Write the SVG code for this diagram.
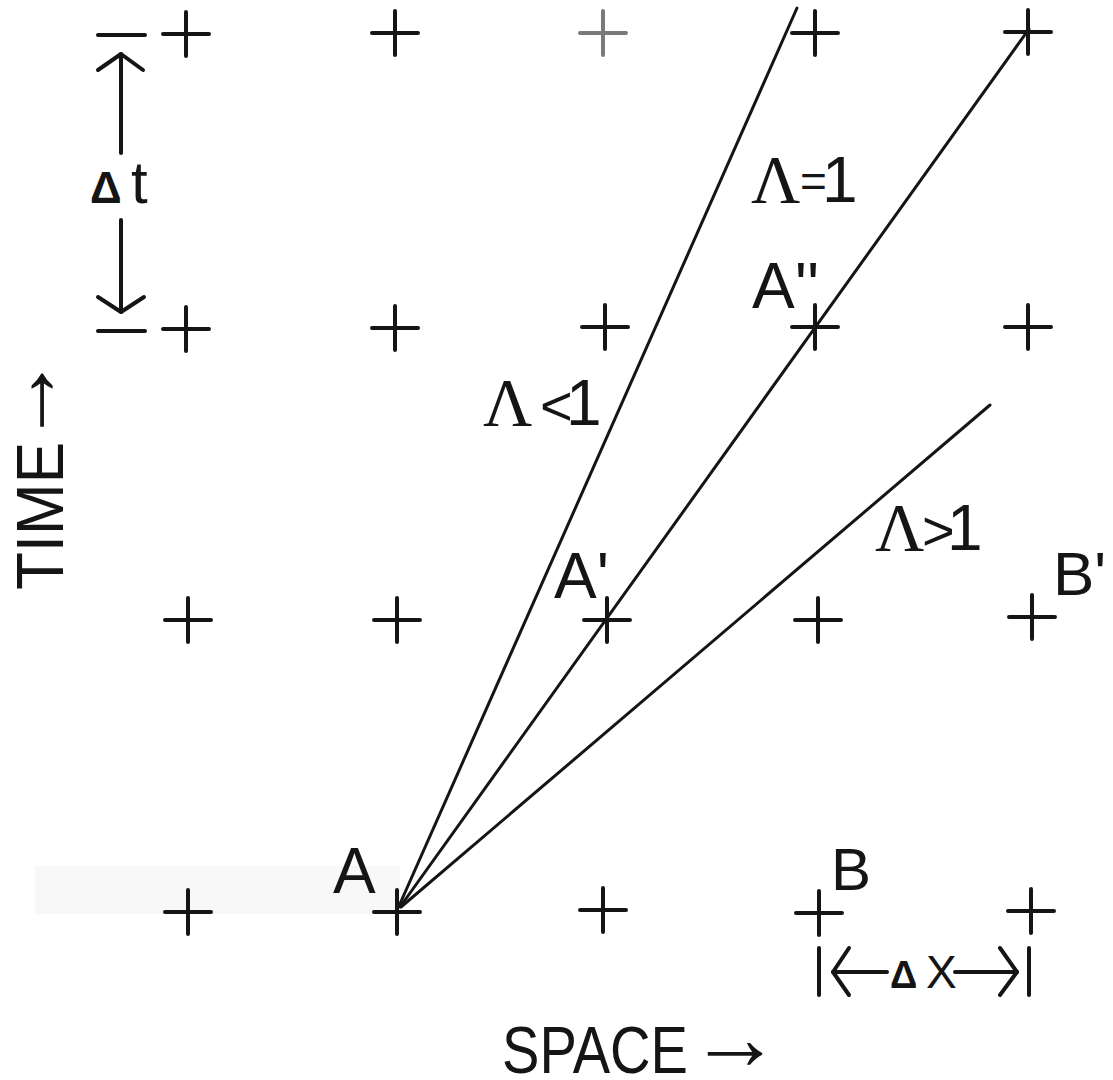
<svg xmlns="http://www.w3.org/2000/svg" xmlns:xlink="http://www.w3.org/1999/xlink" width="1113" height="1080" viewBox="0 0 1113 1080">
<style>
  .pl { stroke: #151515; stroke-width: 4; stroke-linecap: round; fill: none; }
  .pl.grey { stroke: #7a7a7a; }
  .ln { stroke: #151515; stroke-width: 3; stroke-linecap: round; fill: none; }
  .dim { stroke: #151515; stroke-width: 4; stroke-linecap: round; stroke-linejoin: round; fill: none; }
  .lbl { font-family: "Liberation Sans", Arial, sans-serif; fill: #151515; }
  .lam { font-family: "Liberation Serif", "Times New Roman", serif; }
  .tri { font-weight: bold; }
</style>
<defs>
  <path id="plus" d="M-23,0H23M0,-22V22"/>
</defs>
<rect width="1113" height="1080" fill="#ffffff"/>
<rect x="35" y="866" width="365" height="48" fill="#f8f8f8"/>

<g id="connectors">
  <line class="ln" x1="399" y1="906" x2="797" y2="8"/>
  <line class="ln" x1="400" y1="907" x2="1029" y2="29"/>
  <line class="ln" x1="401" y1="907" x2="990" y2="405"/>
</g>

<g id="grid">
  <g id="p00"><use xlink:href="#plus" class="pl" x="186" y="34"/></g>
  <g id="p01"><use xlink:href="#plus" class="pl" x="395" y="33"/></g>
  <g id="p02"><use xlink:href="#plus" class="pl grey" x="603" y="33"/></g>
  <g id="p03"><use xlink:href="#plus" class="pl" x="815" y="33"/></g>
  <g id="p04"><use xlink:href="#plus" class="pl" x="1028" y="32"/></g>

  <g id="p10"><use xlink:href="#plus" class="pl" x="186" y="329"/></g>
  <g id="p11"><use xlink:href="#plus" class="pl" x="395" y="328"/></g>
  <g id="p12"><use xlink:href="#plus" class="pl" x="605" y="327"/></g>
  <g id="p13"><use xlink:href="#plus" class="pl" x="815" y="327"/>
    <text class="lbl" x="752" y="308" font-size="64">A''</text></g>
  <g id="p14"><use xlink:href="#plus" class="pl" x="1028" y="327"/></g>

  <g id="p20"><use xlink:href="#plus" class="pl" x="188" y="620"/></g>
  <g id="p21"><use xlink:href="#plus" class="pl" x="397" y="620"/></g>
  <g id="p22"><use xlink:href="#plus" class="pl" x="607" y="620"/>
    <text class="lbl" x="554" y="598" font-size="64">A'</text></g>
  <g id="p23"><use xlink:href="#plus" class="pl" x="818" y="620"/></g>
  <g id="p24"><use xlink:href="#plus" class="pl" x="1032" y="617"/>
    <text class="lbl" x="1053" y="595" font-size="62">B'</text></g>

  <g id="p30"><use xlink:href="#plus" class="pl" x="188" y="912"/></g>
  <g id="p31"><use xlink:href="#plus" class="pl" x="397" y="912"/>
    <text class="lbl" x="333" y="893" font-size="64">A</text></g>
  <g id="p32"><use xlink:href="#plus" class="pl" x="603" y="910"/></g>
  <g id="p33"><use xlink:href="#plus" class="pl" x="819" y="913"/>
    <text class="lbl" x="831" y="890" font-size="60">B</text></g>
  <g id="p34"><use xlink:href="#plus" class="pl" x="1031" y="911"/></g>
</g>

<g id="line-labels">
  <text id="lab-eq" class="lbl" y="202" font-size="64"><tspan class="lam" x="751" font-size="68">Λ</tspan><tspan x="800" font-size="46" dy="-5">=</tspan><tspan x="822" dy="5">1</tspan></text>
  <text id="lab-lt" class="lbl" y="425" font-size="64"><tspan class="lam" x="483" font-size="68">Λ</tspan><tspan x="540" font-size="56">&lt;</tspan><tspan x="566">1</tspan></text>
  <text id="lab-gt" class="lbl" y="550" font-size="64"><tspan class="lam" x="875" font-size="68">Λ</tspan><tspan x="922" font-size="56">&gt;</tspan><tspan x="947">1</tspan></text>
</g>

<g id="dimension-dt">
  <line class="dim" x1="98" y1="35" x2="145" y2="35"/>
  <line class="dim" x1="98" y1="331" x2="145" y2="331"/>
  <line class="dim" x1="121" y1="54" x2="121" y2="153"/>
  <polyline class="dim" points="98,70 121,54 143,70"/>
  <line class="dim" x1="121" y1="220" x2="121" y2="312"/>
  <polyline class="dim" points="98,297 121,312 144,297"/>
  <text class="lbl" y="203"><tspan class="tri" x="90" font-size="44">Δ</tspan><tspan x="131" font-size="60">t</tspan></text>
</g>

<g id="dimension-dx">
  <line class="dim" x1="819" y1="948" x2="819" y2="995"/>
  <line class="dim" x1="833" y1="972" x2="887" y2="972"/>
  <polyline class="dim" points="849,948 833,972 849,995"/>
  <line class="dim" x1="955" y1="972" x2="1017" y2="972"/>
  <polyline class="dim" points="1000,948 1017,972 1000,995"/>
  <line class="dim" x1="1029" y1="948" x2="1029" y2="995"/>
  <text class="lbl" y="988"><tspan class="tri" x="890" font-size="38">Δ</tspan><tspan x="926" font-size="46">X</tspan></text>
</g>

<g id="axis-labels">
  <text id="time" class="lbl" font-size="66" transform="translate(63,590) rotate(-90)"><tspan textLength="148" lengthAdjust="spacingAndGlyphs">TIME</tspan><tspan font-size="90" dx="-3" dy="-6">→</tspan></text>
  <text id="space" class="lbl" font-size="66" x="502" y="1073"><tspan textLength="186" lengthAdjust="spacingAndGlyphs">SPACE</tspan><tspan font-size="92" dx="1" dy="-4">→</tspan></text>
</g>
</svg>
